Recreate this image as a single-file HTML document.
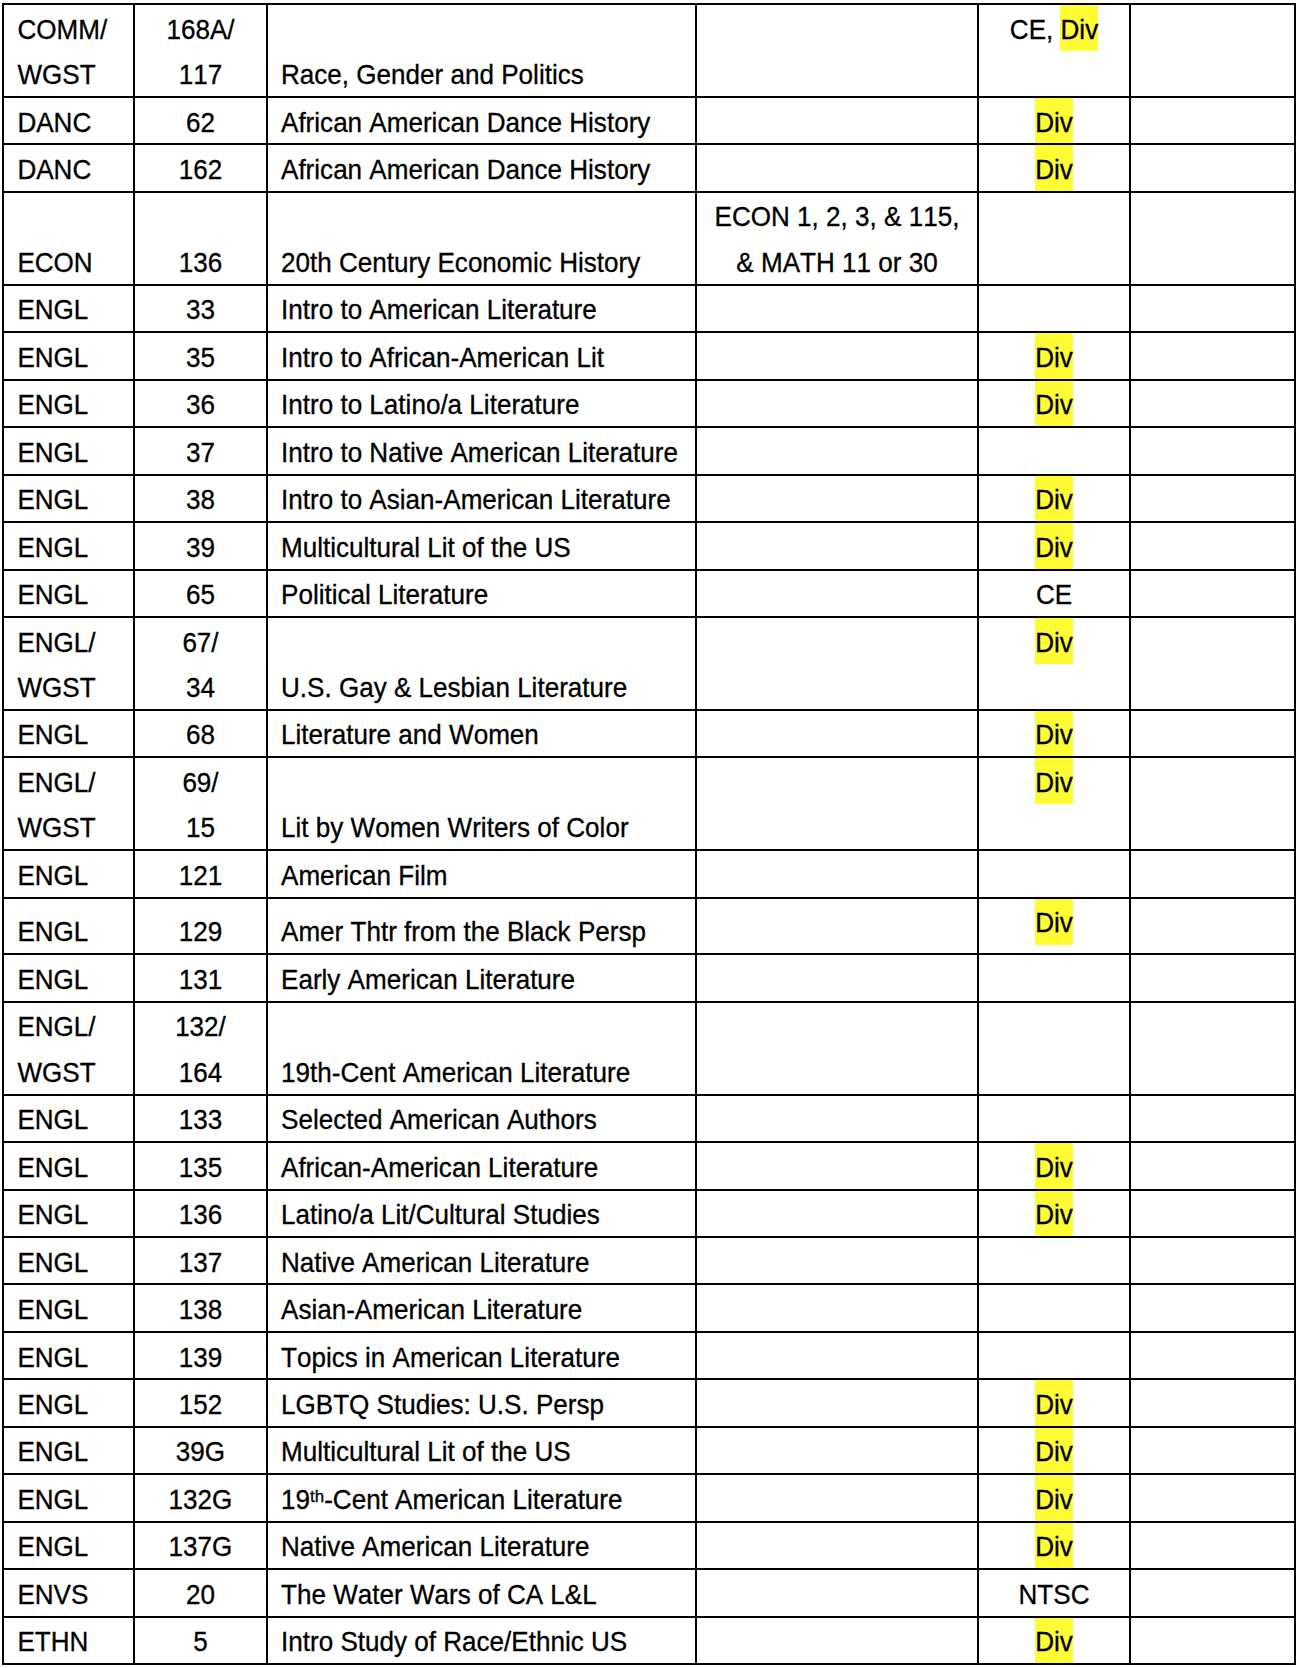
<!DOCTYPE html>
<html><head><meta charset="utf-8"><title>Courses</title>
<style>
html,body{margin:0;padding:0;background:#fff;}
body{width:1298px;height:1668px;position:relative;overflow:hidden;
 font-family:"Liberation Sans",sans-serif;font-size:26.07px;color:#000;}
.hl,.vl{position:absolute;background:#000;z-index:2;}
.hl{left:2px;width:1294px;height:2px;}
.vl{top:3px;height:1662px;width:2px;}
.t{position:absolute;z-index:1;font-kerning:none;white-space:nowrap;transform:scaleY(1.025);-webkit-text-stroke:0.3px #000;line-height:45.7px;height:45.7px;}
.c{text-align:center;}
.y{position:absolute;background:#fffc36;height:45.7px;z-index:0;}
sup{font-size:0.65em;vertical-align:baseline;position:relative;top:-6.6px;line-height:0;}
</style></head><body>
<div class="hl" style="top:3px"></div><div class="hl" style="top:96px"></div><div class="hl" style="top:143px"></div><div class="hl" style="top:191px"></div><div class="hl" style="top:284px"></div><div class="hl" style="top:331px"></div><div class="hl" style="top:379px"></div><div class="hl" style="top:426px"></div><div class="hl" style="top:474px"></div><div class="hl" style="top:521px"></div><div class="hl" style="top:569px"></div><div class="hl" style="top:616px"></div><div class="hl" style="top:709px"></div><div class="hl" style="top:756px"></div><div class="hl" style="top:849px"></div><div class="hl" style="top:897px"></div><div class="hl" style="top:953px"></div><div class="hl" style="top:1001px"></div><div class="hl" style="top:1094px"></div><div class="hl" style="top:1141px"></div><div class="hl" style="top:1189px"></div><div class="hl" style="top:1236px"></div><div class="hl" style="top:1283px"></div><div class="hl" style="top:1331px"></div><div class="hl" style="top:1378px"></div><div class="hl" style="top:1426px"></div><div class="hl" style="top:1473px"></div><div class="hl" style="top:1521px"></div><div class="hl" style="top:1568px"></div><div class="hl" style="top:1616px"></div><div class="hl" style="top:1663px"></div><div class="vl" style="left:2px"></div><div class="vl" style="left:133px"></div><div class="vl" style="left:266px"></div><div class="vl" style="left:695px"></div><div class="vl" style="left:977px"></div><div class="vl" style="left:1129px"></div><div class="vl" style="left:1294px"></div>
<div class="t" style="left:17.4px;top:8px">COMM/</div><div class="t" style="left:17.4px;top:53px">WGST</div><div class="t c" style="left:135px;width:131px;top:8px">168A/</div><div class="t c" style="left:135px;width:131px;top:53px">117</div><div class="t" style="left:281px;top:53px">Race, Gender and Politics</div><div class="t c" style="left:979px;width:150px;top:8px">CE, Div</div><div class="y" style="left:1060.07px;width:37.65px;top:5px"></div>
<div class="t" style="left:17.4px;top:101px">DANC</div><div class="t c" style="left:135px;width:131px;top:101px">62</div><div class="t" style="left:281px;top:101px">African American Dance History</div><div class="t c" style="left:979px;width:150px;top:101px">Div</div><div class="y" style="left:1035.17px;width:37.65px;top:98px"></div>
<div class="t" style="left:17.4px;top:148px">DANC</div><div class="t c" style="left:135px;width:131px;top:148px">162</div><div class="t" style="left:281px;top:148px">African American Dance History</div><div class="t c" style="left:979px;width:150px;top:148px">Div</div><div class="y" style="left:1035.17px;width:37.65px;top:145px"></div>
<div class="t" style="left:17.4px;top:241px">ECON</div><div class="t c" style="left:135px;width:131px;top:241px">136</div><div class="t" style="left:281px;top:241px">20th Century Economic History</div><div class="t c" style="left:697px;width:280px;top:195px">ECON 1, 2, 3, &amp; 115,</div><div class="t c" style="left:697px;width:280px;top:241px">&amp; MATH 11 or 30</div>
<div class="t" style="left:17.4px;top:288px">ENGL</div><div class="t c" style="left:135px;width:131px;top:288px">33</div><div class="t" style="left:281px;top:288px">Intro to American Literature</div>
<div class="t" style="left:17.4px;top:336px">ENGL</div><div class="t c" style="left:135px;width:131px;top:336px">35</div><div class="t" style="left:281px;top:336px">Intro to African-American Lit</div><div class="t c" style="left:979px;width:150px;top:336px">Div</div><div class="y" style="left:1035.17px;width:37.65px;top:333px"></div>
<div class="t" style="left:17.4px;top:383px">ENGL</div><div class="t c" style="left:135px;width:131px;top:383px">36</div><div class="t" style="left:281px;top:383px">Intro to Latino/a Literature</div><div class="t c" style="left:979px;width:150px;top:383px">Div</div><div class="y" style="left:1035.17px;width:37.65px;top:381px"></div>
<div class="t" style="left:17.4px;top:431px">ENGL</div><div class="t c" style="left:135px;width:131px;top:431px">37</div><div class="t" style="left:281px;top:431px">Intro to Native American Literature</div>
<div class="t" style="left:17.4px;top:478px">ENGL</div><div class="t c" style="left:135px;width:131px;top:478px">38</div><div class="t" style="left:281px;top:478px">Intro to Asian-American Literature</div><div class="t c" style="left:979px;width:150px;top:478px">Div</div><div class="y" style="left:1035.17px;width:37.65px;top:476px"></div>
<div class="t" style="left:17.4px;top:526px">ENGL</div><div class="t c" style="left:135px;width:131px;top:526px">39</div><div class="t" style="left:281px;top:526px">Multicultural Lit of the US</div><div class="t c" style="left:979px;width:150px;top:526px">Div</div><div class="y" style="left:1035.17px;width:37.65px;top:523px"></div>
<div class="t" style="left:17.4px;top:573px">ENGL</div><div class="t c" style="left:135px;width:131px;top:573px">65</div><div class="t" style="left:281px;top:573px">Political Literature</div><div class="t c" style="left:979px;width:150px;top:573px">CE</div>
<div class="t" style="left:17.4px;top:621px">ENGL/</div><div class="t" style="left:17.4px;top:666px">WGST</div><div class="t c" style="left:135px;width:131px;top:621px">67/</div><div class="t c" style="left:135px;width:131px;top:666px">34</div><div class="t" style="left:281px;top:666px">U.S. Gay &amp; Lesbian Literature</div><div class="t c" style="left:979px;width:150px;top:621px">Div</div><div class="y" style="left:1035.17px;width:37.65px;top:618px"></div>
<div class="t" style="left:17.4px;top:713px">ENGL</div><div class="t c" style="left:135px;width:131px;top:713px">68</div><div class="t" style="left:281px;top:713px">Literature and Women</div><div class="t c" style="left:979px;width:150px;top:713px">Div</div><div class="y" style="left:1035.17px;width:37.65px;top:711px"></div>
<div class="t" style="left:17.4px;top:761px">ENGL/</div><div class="t" style="left:17.4px;top:806px">WGST</div><div class="t c" style="left:135px;width:131px;top:761px">69/</div><div class="t c" style="left:135px;width:131px;top:806px">15</div><div class="t" style="left:281px;top:806px">Lit by Women Writers of Color</div><div class="t c" style="left:979px;width:150px;top:761px">Div</div><div class="y" style="left:1035.17px;width:37.65px;top:758px"></div>
<div class="t" style="left:17.4px;top:854px">ENGL</div><div class="t c" style="left:135px;width:131px;top:854px">121</div><div class="t" style="left:281px;top:854px">American Film</div>
<div class="t" style="left:17.4px;top:910px">ENGL</div><div class="t c" style="left:135px;width:131px;top:910px">129</div><div class="t" style="left:281px;top:910px">Amer Thtr from the Black Persp</div><div class="t c" style="left:979px;width:150px;top:901px">Div</div><div class="y" style="left:1035.17px;width:37.65px;top:899px"></div>
<div class="t" style="left:17.4px;top:958px">ENGL</div><div class="t c" style="left:135px;width:131px;top:958px">131</div><div class="t" style="left:281px;top:958px">Early American Literature</div>
<div class="t" style="left:17.4px;top:1005px">ENGL/</div><div class="t" style="left:17.4px;top:1051px">WGST</div><div class="t c" style="left:135px;width:131px;top:1005px">132/</div><div class="t c" style="left:135px;width:131px;top:1051px">164</div><div class="t" style="left:281px;top:1051px">19th-Cent American Literature</div>
<div class="t" style="left:17.4px;top:1098px">ENGL</div><div class="t c" style="left:135px;width:131px;top:1098px">133</div><div class="t" style="left:281px;top:1098px">Selected American Authors</div>
<div class="t" style="left:17.4px;top:1146px">ENGL</div><div class="t c" style="left:135px;width:131px;top:1146px">135</div><div class="t" style="left:281px;top:1146px">African-American Literature</div><div class="t c" style="left:979px;width:150px;top:1146px">Div</div><div class="y" style="left:1035.17px;width:37.65px;top:1143px"></div>
<div class="t" style="left:17.4px;top:1193px">ENGL</div><div class="t c" style="left:135px;width:131px;top:1193px">136</div><div class="t" style="left:281px;top:1193px">Latino/a Lit/Cultural Studies</div><div class="t c" style="left:979px;width:150px;top:1193px">Div</div><div class="y" style="left:1035.17px;width:37.65px;top:1191px"></div>
<div class="t" style="left:17.4px;top:1241px">ENGL</div><div class="t c" style="left:135px;width:131px;top:1241px">137</div><div class="t" style="left:281px;top:1241px">Native American Literature</div>
<div class="t" style="left:17.4px;top:1288px">ENGL</div><div class="t c" style="left:135px;width:131px;top:1288px">138</div><div class="t" style="left:281px;top:1288px">Asian-American Literature</div>
<div class="t" style="left:17.4px;top:1336px">ENGL</div><div class="t c" style="left:135px;width:131px;top:1336px">139</div><div class="t" style="left:281px;top:1336px">Topics in American Literature</div>
<div class="t" style="left:17.4px;top:1383px">ENGL</div><div class="t c" style="left:135px;width:131px;top:1383px">152</div><div class="t" style="left:281px;top:1383px">LGBTQ Studies: U.S. Persp</div><div class="t c" style="left:979px;width:150px;top:1383px">Div</div><div class="y" style="left:1035.17px;width:37.65px;top:1380px"></div>
<div class="t" style="left:17.4px;top:1430px">ENGL</div><div class="t c" style="left:135px;width:131px;top:1430px">39G</div><div class="t" style="left:281px;top:1430px">Multicultural Lit of the US</div><div class="t c" style="left:979px;width:150px;top:1430px">Div</div><div class="y" style="left:1035.17px;width:37.65px;top:1428px"></div>
<div class="t" style="left:17.4px;top:1478px">ENGL</div><div class="t c" style="left:135px;width:131px;top:1478px">132G</div><div class="t" style="left:281px;top:1478px">19<sup>th</sup>-Cent American Literature</div><div class="t c" style="left:979px;width:150px;top:1478px">Div</div><div class="y" style="left:1035.17px;width:37.65px;top:1475px"></div>
<div class="t" style="left:17.4px;top:1525px">ENGL</div><div class="t c" style="left:135px;width:131px;top:1525px">137G</div><div class="t" style="left:281px;top:1525px">Native American Literature</div><div class="t c" style="left:979px;width:150px;top:1525px">Div</div><div class="y" style="left:1035.17px;width:37.65px;top:1523px"></div>
<div class="t" style="left:17.4px;top:1573px">ENVS</div><div class="t c" style="left:135px;width:131px;top:1573px">20</div><div class="t" style="left:281px;top:1573px">The Water Wars of CA L&amp;L</div><div class="t c" style="left:979px;width:150px;top:1573px">NTSC</div>
<div class="t" style="left:17.4px;top:1620px">ETHN</div><div class="t c" style="left:135px;width:131px;top:1620px">5</div><div class="t" style="left:281px;top:1620px">Intro Study of Race/Ethnic US</div><div class="t c" style="left:979px;width:150px;top:1620px">Div</div><div class="y" style="left:1035.17px;width:37.65px;top:1618px"></div>
</body></html>
